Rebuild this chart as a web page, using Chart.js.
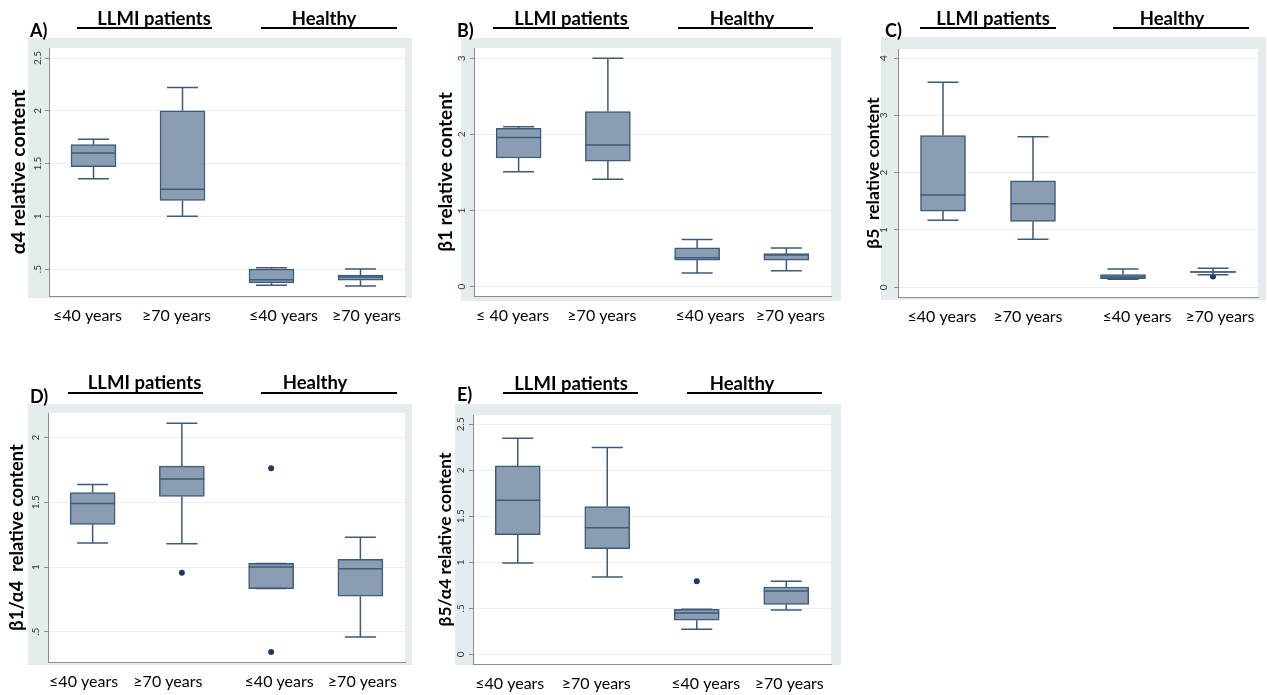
<!DOCTYPE html>
<html>
<head>
<meta charset="utf-8">
<script src="https://cdn.jsdelivr.net/npm/chart.js@4.4.0/dist/chart.umd.min.js"></script>
<style>
  body { margin: 0; background: #fff; width: 1267px; height: 695px; overflow: hidden; position: relative; font-family: Lato, sans-serif; }
  canvas { position: absolute; }
  .txt { position: absolute; transform: translate(-50%, -50%); white-space: nowrap; font-weight: bold; color: #000; line-height: 1; }
  .rule { position: absolute; height: 2px; background: #000; }
</style>
</head>
<body>
<script>
// categories
var ageGroups = ['≤40 years', '≥70 years', '≤40 years', '≥70 years'];
var ageGroupsB = ['≤ 40 years', '≥70 years', '≤40 years', '≥70 years'];
var groupNames = ['LLMI patients', 'Healthy'];

// box stats per age group: [lower whisker, Q1, median, Q3, upper whisker]
var alpha4 = [[1.355, 1.47, 1.60, 1.68, 1.73], [1.00, 1.15, 1.257, 2.00, 2.22], [0.348, 0.37, 0.40, 0.50, 0.512], [0.34, 0.395, 0.424, 0.443, 0.50]];
var beta1 = [[1.51, 1.69, 1.96, 2.08, 2.10], [1.41, 1.65, 1.86, 2.30, 3.00], [0.18, 0.35, 0.38, 0.51, 0.62], [0.21, 0.35, 0.417, 0.434, 0.51]];
var beta5 = [[1.17, 1.33, 1.61, 2.65, 3.58], [0.84, 1.15, 1.46, 1.86, 2.63], [0.14, 0.15, 0.18, 0.22, 0.32], [0.22, 0.26, 0.265, 0.28, 0.33]];
var beta1Alpha4 = [[1.185, 1.33, 1.49, 1.576, 1.638], [1.18, 1.545, 1.68, 1.78, 2.11], [0.833, 0.833, 1.0, 1.028, 1.028], [0.46, 0.774, 0.987, 1.06, 1.229]];
var beta5Alpha4 = [[0.992, 1.30, 1.674, 2.047, 2.348], [0.84, 1.148, 1.376, 1.605, 2.246], [0.272, 0.37, 0.449, 0.489, 0.489], [0.481, 0.543, 0.688, 0.731, 0.793]];

// outside values: [age group index, value]
var alpha4Out = [];
var beta1Out = [];
var beta5Out = [[3, 0.19]];
var beta1Alpha4Out = [[1, 0.956], [2, 1.764], [2, 0.344]];
var beta5Alpha4Out = [[2, 0.793]];

// y tick labels
var ticksA = [0.5, 1, 1.5, 2, 2.5];
var ticksB = [0, 1, 2, 3];
var ticksC = [0, 1, 2, 3, 4];
var ticksD = [0.5, 1, 1.5, 2];
var ticksE = [0, 0.5, 1, 1.5, 2, 2.5];

var boxFill = '#8a9db3';
var boxEdge = '#3d5a7a';
var dotColor = '#1e3a62';
var panelBg = '#e4ecee';

// layout (page px): canvas, plot area, grey frame, header bits, x label nudges
var panels = [
  { letter: 'A)', title: 'α4 relative content', stats: alpha4, out: alpha4Out, ticks: ticksA, labels: ageGroups, min: 0.245, max: 2.595,
    canvas: [0, 36, 420, 300], area: [49, 48, 405, 296], frame: [28, 38, 412, 298], titleX: 19, titleSize: 19.5, tickPad: 0.5,
    labelShift: [-6, -6, 12, 6],
    letterXY: [30, 30], heads: [[154, 18, 77, 212, 28], [324, 18, 261, 397, 28]] },
  { letter: 'B)', title: 'β1 relative content', stats: beta1, out: beta1Out, ticks: ticksB, labels: ageGroupsB, min: -0.122, max: 3.135,
    canvas: [425, 36, 425, 300], area: [474, 48, 831, 296], frame: [461, 38, 841, 301], titleX: 21, titleSize: 19, tickPad: 5,
    labelShift: [-6, -6, 13, 4],
    letterXY: [457, 30], heads: [[571, 18, 493, 629, 28], [742, 18, 678, 813, 28]] },
  { letter: 'C)', title: 'β5  relative content', stats: beta5, out: beta5Out, ticks: ticksC, labels: ageGroups, min: -0.17, max: 4.16,
    canvas: [850, 36, 417, 300], area: [898, 48, 1258, 297], frame: [881, 37, 1266, 300], titleX: 23, titleSize: 17.5, tickPad: 7,
    labelShift: [-1, -5, 14, 7],
    letterXY: [885, 30], heads: [[993, 18, 920, 1056, 28], [1172, 18, 1113, 1249, 28]] },
  { letter: 'D)', title: 'β1/α4  relative content', stats: beta1Alpha4, out: beta1Alpha4Out, ticks: ticksD, labels: ageGroups, min: 0.266, max: 2.19,
    canvas: [0, 400, 420, 295], area: [48, 413, 405, 662], frame: [28, 404, 412, 665], titleX: 17, titleSize: 18.2, tickPad: 1.5,
    labelShift: [-9, -14, 8, 2],
    letterXY: [30, 396], heads: [[144.5, 382, 68, 203, 393], [315, 382, 261, 397, 393]] },
  { letter: 'E)', title: 'β5/α4 relative content', stats: beta5Alpha4, out: beta5Alpha4Out, ticks: ticksE, labels: ageGroups, min: -0.105, max: 2.6,
    canvas: [425, 400, 425, 295], area: [473, 415, 831, 664], frame: [455, 404, 841, 665], titleX: 20, titleSize: 17.4, tickPad: 1.5,
    labelShift: [-8, -11, 9, 3],
    letterXY: [457, 394], heads: [[571, 383, 503, 638, 393], [742, 383, 687, 822, 393]] }
];

function stataNum(v) {
  return String(v).replace(/^0\./, '.');
}

function addText(str, x, y, size, center) {
  var d = document.createElement('div');
  d.className = 'txt';
  d.textContent = str;
  d.style.left = x + 'px';
  d.style.top = y + 'px';
  d.style.fontSize = size + 'px';
  if (!center) d.style.transform = 'translate(0, -50%)';
  document.body.appendChild(d);
}

function addRule(x1, x2, y) {
  var d = document.createElement('div');
  d.className = 'rule';
  d.style.left = x1 + 'px';
  d.style.width = (x2 - x1) + 'px';
  d.style.top = (y - 1) + 'px';
  document.body.appendChild(d);
}

// spread outside values over as many point series as needed (one value per group per series)
function outlierSeries(out) {
  var series = [];
  out.forEach(function (o) {
    var s = series.find(function (arr) { return arr[o[0]] === null; });
    if (!s) { s = [null, null, null, null]; series.push(s); }
    s[o[0]] = o[1];
  });
  return series;
}

panels.forEach(function (p) {
  var cl = p.canvas[0], ct = p.canvas[1], cw = p.canvas[2], ch = p.canvas[3];
  var cv = document.createElement('canvas');
  cv.width = cw; cv.height = ch;
  cv.style.left = cl + 'px'; cv.style.top = ct + 'px';
  document.body.appendChild(cv);

  addText(p.letter, p.letterXY[0], p.letterXY[1], 18, false);
  p.heads.forEach(function (h, i) {
    addText(groupNames[i], h[0], h[1], 18.5, true);
    addRule(h[2], h[3], h[4]);
  });

  var yW = p.area[0] - cl;
  var xH = ct + ch - p.area[3];
  var titleLine = p.titleSize * 1.2;
  var band = (p.area[2] - p.area[0]) / p.labels.length;

  // grey frame + white plot area
  var framePlugin = {
    id: 'frame',
    beforeDraw: function (chart) {
      var c = chart.ctx, a = chart.chartArea;
      c.save();
      c.fillStyle = panelBg;
      c.fillRect(p.frame[0] - cl, p.frame[1] - ct, p.frame[2] - p.frame[0], p.frame[3] - p.frame[1]);
      c.fillStyle = '#fff';
      c.fillRect(a.left, a.top, a.right - a.left, a.bottom - a.top);
      c.restore();
    }
  };

  // whiskers, caps and median lines
  var whiskerPlugin = {
    id: 'whiskers',
    afterDatasetsDraw: function (chart) {
      var c = chart.ctx, xs = chart.scales.x, ys = chart.scales.y;
      var bars = chart.getDatasetMeta(0).data;
      c.save();
      c.strokeStyle = boxEdge;
      c.lineWidth = 1.5;
      p.stats.forEach(function (s, i) {
        var cx = xs.getPixelForValue(i);
        var half = bars[i].width / 2;
        var lo = ys.getPixelForValue(s[0]), q1 = ys.getPixelForValue(s[1]), md = ys.getPixelForValue(s[2]);
        var q3 = ys.getPixelForValue(s[3]), hi = ys.getPixelForValue(s[4]);
        c.beginPath();
        c.moveTo(cx, q3); c.lineTo(cx, hi);
        c.moveTo(cx, q1); c.lineTo(cx, lo);
        c.moveTo(cx - 15.5, hi); c.lineTo(cx + 15.5, hi);
        c.moveTo(cx - 15.5, lo); c.lineTo(cx + 15.5, lo);
        c.moveTo(cx - half, md); c.lineTo(cx + half, md);
        c.stroke();
      });
      c.restore();
    }
  };

  var datasets = [{
    type: 'bar',
    data: p.stats.map(function (s) { return [s[1], s[3]]; }),
    backgroundColor: boxFill,
    borderColor: boxEdge,
    borderWidth: 1.5,
    borderSkipped: false,
    barThickness: 45,
    order: 2
  }];
  outlierSeries(p.out).forEach(function (s) {
    datasets.push({
      type: 'line',
      data: s,
      showLine: false,
      backgroundColor: dotColor,
      borderColor: dotColor,
      borderWidth: 0,
      pointRadius: 3,
      order: 1
    });
  });

  new Chart(cv, {
    type: 'bar',
    data: { labels: p.labels, datasets: datasets },
    options: {
      responsive: false,
      animation: false,
      devicePixelRatio: 1,
      layout: { padding: { left: 0, top: p.area[1] - ct, right: cl + cw - p.area[2], bottom: 0 } },
      plugins: { legend: { display: false }, tooltip: { enabled: false } },
      scales: {
        x: {
          type: 'category',
          offset: true,
          // labels in the source figure sit slightly off the box centres
          afterBuildTicks: function (sc) {
            sc.ticks = p.labels.map(function (l, i) { return { value: i + p.labelShift[i] / band }; });
          },
          afterFit: function (sc) { sc.height = xH; },
          grid: { display: false, drawTicks: false },
          border: { display: true, color: '#8a8a8a', width: 1 },
          ticks: {
            autoSkip: false,
            maxRotation: 0,
            padding: 10,
            color: '#000',
            font: { family: 'Lato', size: 16 },
            callback: function (v, i) { return p.labels[i]; }
          }
        },
        y: {
          min: p.min,
          max: p.max,
          afterBuildTicks: function (sc) { sc.ticks = p.ticks.map(function (v) { return { value: v }; }); },
          afterFit: function (sc) { sc.width = yW; },
          grid: { color: '#eceeee', lineWidth: 1, drawTicks: true, tickLength: 4, tickColor: '#8a8a8a' },
          border: { display: true, color: '#8a8a8a', width: 1 },
          ticks: {
            minRotation: 90,
            maxRotation: 90,
            crossAlign: 'center',
            padding: p.tickPad,
            color: '#333',
            font: { family: 'Lato', size: 10 },
            callback: function (v) { return stataNum(v); }
          },
          title: {
            display: true,
            text: p.title,
            color: '#000',
            font: { family: 'Lato', size: p.titleSize, weight: 'bold' },
            padding: { top: p.titleX - titleLine / 2, bottom: 0 }
          }
        }
      }
    },
    plugins: [framePlugin, whiskerPlugin]
  });
});
</script>
</body>
</html>
